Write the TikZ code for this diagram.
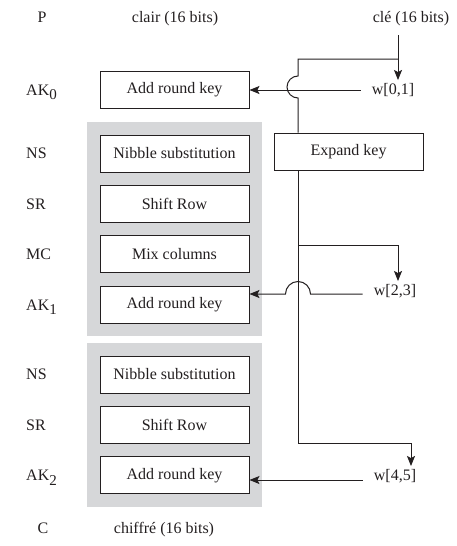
\documentclass[tikz,border=0pt]{standalone}
\usepackage{fontspec}
\setmainfont{Liberation Serif}
\usepackage{tikz}
\usetikzlibrary{
  positioning,   % boxes below one another
  fit,           % gray round frames
  backgrounds,   % frames behind the boxes
  calc
}
\usetikzlibrary{arrows.meta}

\definecolor{inkc}{RGB}{35,31,32}
\definecolor{roundgray}{RGB}{214,215,217}
\newcommand{\sub}[1]{\raisebox{-4.5pt}{\fontsize{15}{15}\selectfont #1}}

\tikzset{
  opbox/.style={draw=inkc, line width=0.9pt, fill=white, minimum width=149pt,
                minimum height=37pt, inner sep=0pt, text=inkc},
  lbl/.style={anchor=base west, yshift=-5.4pt, inner sep=0pt, text=inkc},
  ttl/.style={anchor=base, yshift=-5.4pt, inner sep=0pt, text=inkc},
  wkey/.style={text=inkc, inner xsep=11pt, inner ysep=3pt},
  arr/.style={-{Stealth[length=10pt,width=8pt,inset=2pt]}},
  wire/.style={draw=inkc, line width=1pt}
}

\begin{document}
\begin{tikzpicture}[x=1pt, y=1pt, font=\fontsize{16}{19}\selectfont]
  \useasboundingbox (0,0) rectangle (456,-546);

  % titles
  \node[ttl] (tP) at (42,-17) {P};
  \node[ttl] (clair) at (175,-17) {clair (16 bits)};
  \node[ttl] (cle) at (411,-17) {clé (16 bits)};

  % cipher boxes
  \node[opbox] (ak0) at (174.5,-90) {Add round key};
  \node[opbox] (ns1) at (174.5,-153.5) {Nibble substitution};
  \node[opbox, below=12.5pt of ns1] (sr1) {Shift Row};
  \node[opbox, below=12.5pt of sr1] (mc1) {Mix columns};
  \node[opbox, below=12.5pt of mc1] (ak1) {Add round key};
  \node[opbox] (ns2) at (174.5,-374.5) {Nibble substitution};
  \node[opbox, below=12.5pt of ns2] (sr2) {Shift Row};
  \node[opbox, below=12.5pt of sr2] (ak2) {Add round key};

  \begin{scope}[on background layer]
    \node[fill=roundgray, inner sep=12.5pt, fit=(ns1)(ak1)] (round1) {};
    \node[fill=roundgray, inner sep=12.5pt, fit=(ns2)(ak2)] (round2) {};
  \end{scope}

  % step labels
  \coordinate (lx) at (26,0);
  \node[lbl] (lak0) at (lx |- ak0) {AK\sub{0}};
  \node[lbl] (lns1) at (lx |- ns1) {NS};
  \node[lbl] (lsr1) at (lx |- sr1) {SR};
  \node[lbl] (lmc1) at (lx |- mc1) {MC};
  \node[lbl] (lak1) at (lx |- ak1) {AK\sub{1}};
  \node[lbl] (lns2) at (lx |- ns2) {NS};
  \node[lbl] (lsr2) at (lx |- sr2) {SR};
  \node[lbl] (lak2) at (lx |- ak2) {AK\sub{2}};
  \node[ttl] (tC) at (43,-528) {C};
  \node[ttl] (chiffre) at (164,-528) {chiffré (16 bits)};

  % key schedule
  \node[opbox] (expand) at (348.5,-151.5) {Expand key};
  \node[wkey] (w01) at (393,-90) {w[0,1]};
  \node[wkey] (w23) at (395,-291) {w[2,3]};
  \node[wkey] (w45) at (395,-476) {w[4,5]};

  \coordinate (keyin) at (398,-35);
  \coordinate (kx) at (298,0);
  \draw[wire, arr] (keyin) -- (keyin |- w01.north);
  \draw[wire] (398,-59) -- (kx |- 0,-59) -- (298,-76) arc (90:270:11)
    -- (kx |- expand.north);
  \draw[wire] (kx |- expand.south) -- (298,-443) -- (411,-443);
  \draw[wire, arr] (411,-443) -- (411,0 |- w45.north);
  \draw[wire] (298,-245) -- (398,-245);
  \draw[wire, arr] (398,-245) -- (398,0 |- w23.north);

  % round keys into the cipher
  \draw[wire, arr] (w01.west) -- (ak0.east);
  \draw[wire, arr] (w23.west |- 0,-294) -- (310.5,-294) arc (0:180:12.5)
    -- (ak1.east |- 0,-294);
  \draw[wire, arr] (w45.west |- 0,-480) -- (ak2.east |- 0,-480);
\end{tikzpicture}
\end{document}
